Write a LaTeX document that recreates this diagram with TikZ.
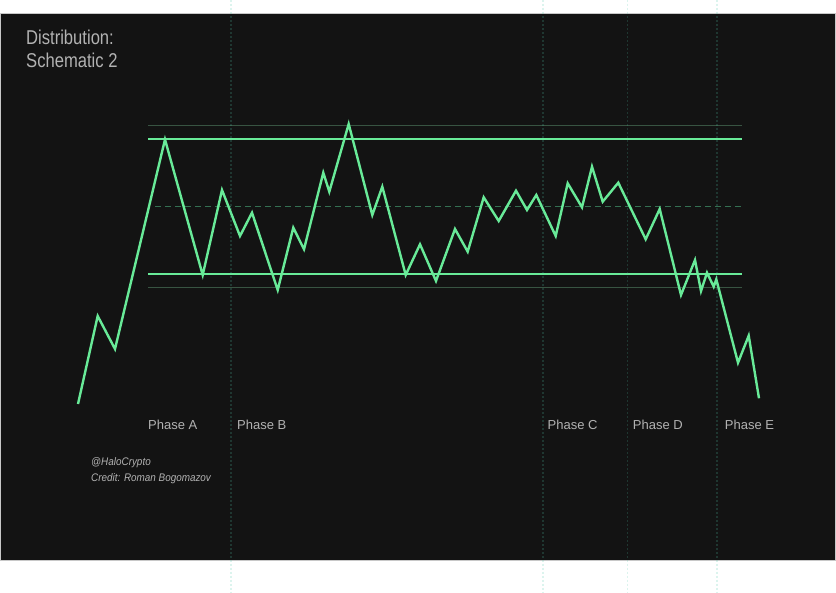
\documentclass[tikz,border=0pt]{standalone}
\usepackage{fontspec}
\setmainfont{Liberation Sans}
\newfontfamily\titlefont[FakeStretch=0.83]{Liberation Sans}
\newfontfamily\credfont[FakeStretch=0.9]{Liberation Sans}
\definecolor{bgdark}{RGB}{19,19,19}
\definecolor{edgegray}{RGB}{200,200,200}
\definecolor{zig}{RGB}{104,234,152}
\definecolor{thinline}{RGB}{56,84,66}
\definecolor{midline}{RGB}{52,112,82}
\definecolor{vline}{RGB}{80,200,170}
\definecolor{txtgray}{RGB}{178,178,178}
\begin{document}
\begin{tikzpicture}[x=1pt,y=-1pt,
  price/.style={draw=zig,line width=2.4pt,line join=miter},
  mainlevel/.style={draw=zig,line width=2pt},
  thinlevel/.style={draw=thinline,line width=1pt},
  midlevel/.style={draw=midline,line width=1pt,dash pattern=on 6pt off 4pt},
  phaseline/.style={draw=vline,opacity=0.2,line width=1.2pt,dash pattern=on 2pt off 2pt},
  phaselabel/.style={anchor=base west,inner sep=0pt,text=txtgray,font=\fontsize{13}{15}\selectfont},
  titletext/.style={anchor=base west,inner sep=0pt,text=txtgray,font=\titlefont\fontsize{20}{23}\selectfont},
  credtext/.style={anchor=base west,inner sep=0pt,text=txtgray,font=\credfont\itshape\fontsize{11}{13}\selectfont}]
\useasboundingbox (0,0) rectangle (836,593);
\fill[white] (0,0) rectangle (836,593);
\draw[fill=bgdark,draw=edgegray,line width=0.8pt] (0.4,13) rectangle (835.6,560);

% levels
\draw[thinlevel] (148,126) coordinate (tA) -- (741.7,126) coordinate (tB);
\draw[thinlevel] (148,287.5) coordinate (bA) -- (741.7,287.5) coordinate (bB);
\draw[midlevel] (155,206.3) coordinate (mA) -- (741.7,206.3) coordinate (mB);
\draw[mainlevel] (148,139.3) coordinate (rA) -- (741.7,139.3) coordinate (rB);
\draw[mainlevel] (148,274) coordinate (sA) -- (741.7,274) coordinate (sB);

% price path
\draw[price] (78,404) -- (97.7,316) -- (115,349) -- (165,139.5) -- (202.7,275)
 -- (222,190) -- (240,236) -- (252,212.7) -- (277.7,290) -- (293.3,227.7)
 -- (304,249.3) -- (323.3,172.7) -- (329.3,191.7) -- (348.7,124) -- (372.3,215)
 -- (382.3,186.7) -- (405.7,275) -- (420,244.3) -- (436,281) -- (455,229)
 -- (467.7,251.7) -- (483.7,197.3) -- (498.7,221) -- (516,190.7) -- (527,210)
 -- (536.3,195) -- (555.7,236) -- (567.7,183.3) -- (582,207.3) -- (592,166.7)
 -- (602.7,201.7) -- (618.3,182.7) -- (645.7,239.3) -- (659.7,209) -- (681,295)
 -- (695,260) -- (701,291) -- (707,272.7) -- (713.7,286.7) -- (716.3,279.3)
 -- (738,362.7) -- (748.7,335.7) -- (759,398.3);

% phase separators
\foreach \xx/\nm in {231/pB,543/pC,627.5/pD,717/pE}{
  \draw[phaseline] (\xx,0) coordinate (\nm top) -- (\xx,593) coordinate (\nm bot);
}

% texts
\node[titletext] (t1) at (26,45) {Distribution:};
\node[titletext] (t2) at (26,68) {Schematic 2};
\node[phaselabel] (la) at (148,430) {Phase A};
\node[phaselabel] (lb) at (237,430) {Phase B};
\node[phaselabel] (lc) at (547.5,430) {Phase C};
\node[phaselabel] (ld) at (632.7,430) {Phase D};
\node[phaselabel] (le) at (724.7,430) {Phase E};
\node[credtext] (c1) at (91,466) {@HaloCrypto};
\node[credtext] (c2) at (91,482) {Credit: Roman Bogomazov};
\end{tikzpicture}
\end{document}
